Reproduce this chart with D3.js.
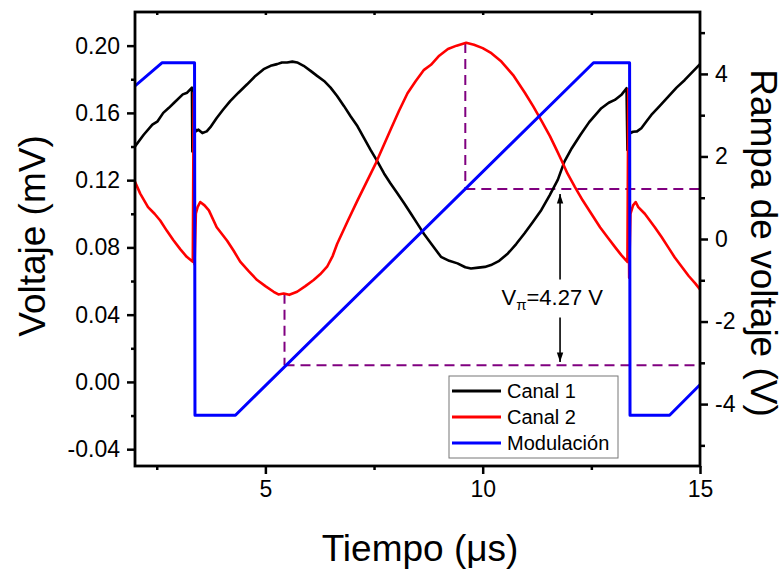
<!DOCTYPE html>
<html>
<head>
<meta charset="utf-8">
<script src="https://cdn.jsdelivr.net/npm/d3@7"></script>
<style>
  html, body { margin: 0; padding: 0; background: #fff; }
  svg { display: block; }
  text { font-family: "Liberation Sans", Arial, sans-serif; fill: #000; }
</style>
</head>
<body>
<svg id="chart" width="784" height="572"></svg>
<script>
// Time axis (µs)
const timeMajorTicks = [5, 10, 15];
const timeMinorTicks = [2.5, 7.5, 12.5];
// Left axis: photodetector voltage (mV)
const voltMajorTicks = [-0.04, 0.00, 0.04, 0.08, 0.12, 0.16, 0.20];
const voltMinorTicks = [-0.02, 0.02, 0.06, 0.10, 0.14, 0.18];
// Right axis: ramp voltage (V)
const rampMajorTicks = [-4, -2, 0, 2, 4];
const rampMinorTicks = [-5, -3, -1, 1, 3, 5];

// Canal 1 trace: [time µs, voltage mV]
const canal1 = [
  [2.00,0.140],[2.20,0.147],[2.40,0.153],[2.52,0.155],[2.65,0.160],[2.78,0.163],[2.90,0.166],[3.10,0.171],[3.20,0.172],[3.31,0.175],
  [3.32,0.137],[3.35,0.153],[3.40,0.149],[3.46,0.150],[3.55,0.148],[3.65,0.149],[3.75,0.152],[3.88,0.157],
  [4.03,0.162],[4.19,0.167],[4.38,0.172],[4.58,0.177],[4.77,0.182],[4.96,0.186],[5.12,0.188],[5.27,0.189],
  [5.38,0.190],[5.50,0.190],[5.62,0.1905],[5.73,0.190],[5.88,0.188],
  [6.04,0.185],[6.19,0.182],[6.35,0.179],[6.50,0.175],[6.65,0.170],[6.81,0.164],[6.96,0.158],[7.12,0.152],
  [7.27,0.145],[7.42,0.138],[7.58,0.131],[7.73,0.124],[7.88,0.118],[8.04,0.112],[8.20,0.106],[8.35,0.100],
  [8.50,0.094],[8.65,0.088],[8.85,0.081],[9.04,0.0744],[9.23,0.0720],[9.42,0.0705],[9.60,0.0682],[9.73,0.0675],
  [9.90,0.0680],[10.05,0.0684],[10.19,0.0695],[10.38,0.0720],[10.58,0.0764],[10.77,0.0820],[10.96,0.0883],
  [11.15,0.0950],[11.35,0.1023],[11.54,0.1110],[11.73,0.1203],[11.88,0.1310],[12.05,0.1390],[12.25,0.1470],
  [12.45,0.1545],[12.60,0.1590],[12.73,0.1628],[12.90,0.1660],[13.04,0.1677],[13.20,0.1710],[13.31,0.1747],
  [13.33,0.1380],[13.36,0.1520],[13.40,0.1480],[13.46,0.1488],[13.55,0.1490],[13.65,0.1509],[13.77,0.1550],
  [13.88,0.1588],[14.07,0.1640],[14.27,0.1697],[14.46,0.1750],[14.65,0.1796],[14.85,0.1850],[15.00,0.1890]
];

// Canal 2 trace: [time µs, voltage mV]
const canal2 = [
  [2.00,0.119],[2.12,0.112],[2.30,0.104],[2.45,0.100],[2.58,0.096],[2.73,0.090],[2.88,0.0844],[3.04,0.0790],
  [3.19,0.0744],[3.33,0.0714],[3.35,0.172],[3.37,0.070],[3.40,0.100],[3.44,0.104],[3.50,0.107],[3.60,0.105],
  [3.70,0.102],[3.88,0.092],[4.12,0.084],[4.27,0.078],[4.42,0.0715],[4.61,0.0660],[4.81,0.0606],[5.00,0.0570],
  [5.19,0.0536],[5.30,0.0520],[5.42,0.0526],[5.55,0.0518],[5.73,0.0536],[5.92,0.0570],[6.11,0.0606],
  [6.26,0.0640],[6.42,0.0685],[6.55,0.0750],[6.65,0.0820],[6.90,0.0960],[7.12,0.1080],[7.33,0.1190],
  [7.54,0.1300],[7.71,0.1400],[7.88,0.1500],[8.07,0.1610],[8.27,0.1717],[8.46,0.1790],[8.65,0.1856],
  [8.81,0.1886],[9.00,0.1940],[9.20,0.1980],[9.40,0.2000],[9.62,0.2017],[9.80,0.2005],[10.00,0.1985],
  [10.20,0.1955],[10.43,0.1905],[10.70,0.1825],[10.97,0.1720],[11.16,0.1640],[11.36,0.1550],[11.55,0.1460],
  [11.70,0.1380],[11.81,0.1320],[11.95,0.1240],[12.12,0.1160],[12.30,0.1080],[12.50,0.1000],[12.70,0.0920],
  [12.89,0.0854],[13.05,0.0800],[13.19,0.0754],[13.33,0.0714],[13.35,0.174],[13.37,0.062],[13.40,0.100],
  [13.46,0.105],[13.52,0.107],[13.58,0.104],[13.73,0.100],[13.96,0.092],[14.12,0.086],[14.27,0.080],
  [14.42,0.074],[14.58,0.0685],[14.74,0.0630],[14.89,0.0586],[15.00,0.0550]
];

// Modulación ramp: [time µs, ramp voltage V]
const modulacion = [
  [2.00,3.71],[2.62,4.27],[3.37,4.27],[3.38,-4.27],[4.31,-4.27],
  [12.55,4.27],[13.38,4.27],[13.39,-4.27],[14.30,-4.27],[15.00,-3.53]
];

// Half-wave voltage construction: valley and peak times, ramp levels
const vpiTimes = [5.44, 9.60];
const vpiLevels = [-3.06, 1.21];
const vpiText = "=4.27 V";

const seriesNames = ["Canal 1", "Canal 2", "Modulación"];
const seriesColors = ["#000000", "#ff0000", "#0000ff"];

const svg = d3.select("#chart");
const plotLeft = 135, plotRight = 700, plotTop = 12, plotBottom = 466;

const x = d3.scaleLinear().domain([2, 15]).range([plotLeft, plotRight]);
const yL = d3.scaleLinear().domain([-0.05, 0.22]).range([plotBottom, plotTop]);
const yR = d3.scaleLinear().domain([-5.5, 5.5]).range([plotBottom, plotTop]);

const defs = svg.append("defs");
defs.append("clipPath").attr("id", "plotClip")
  .append("rect").attr("x", plotLeft).attr("y", plotTop)
  .attr("width", plotRight - plotLeft).attr("height", plotBottom - plotTop);

const tickFont = "23px";
const hyphenated = spec => d => d3.format(spec)(d).replace("\u2212", "-");

// Axes
function styleAxis(g) {
  g.select(".domain").remove();
  g.selectAll(".tick line").attr("stroke", "#000").attr("stroke-width", 2.5);
  g.selectAll(".tick text").style("font-size", tickFont).style("font-family", '"Liberation Sans", Arial, sans-serif');
}

svg.append("g").attr("transform", `translate(${plotLeft},0)`)
  .call(d3.axisLeft(yL).tickValues(voltMajorTicks).tickFormat(hyphenated(".2f")).tickSize(8).tickPadding(7))
  .call(styleAxis);
svg.append("g").attr("transform", `translate(${plotLeft},0)`)
  .call(d3.axisLeft(yL).tickValues(voltMinorTicks).tickFormat("").tickSize(4))
  .call(styleAxis);

svg.append("g").attr("transform", `translate(${plotRight},0)`)
  .call(d3.axisRight(yR).tickValues(rampMajorTicks).tickFormat(hyphenated("d")).tickSize(8).tickPadding(7))
  .call(styleAxis);
svg.append("g").attr("transform", `translate(${plotRight},0)`)
  .call(d3.axisRight(yR).tickValues(rampMinorTicks).tickFormat("").tickSize(5))
  .call(styleAxis);

svg.append("g").attr("transform", `translate(0,${plotBottom})`)
  .call(d3.axisBottom(x).tickValues(timeMajorTicks).tickFormat(d3.format("d")).tickSize(8).tickPadding(7))
  .call(styleAxis);
svg.append("g").attr("transform", `translate(0,${plotBottom})`)
  .call(d3.axisBottom(x).tickValues(timeMinorTicks).tickFormat("").tickSize(4))
  .call(styleAxis);
svg.append("g").attr("transform", `translate(0,${plotTop})`)
  .call(d3.axisBottom(x).tickValues(timeMinorTicks.concat(timeMajorTicks.slice(0, 2))).tickFormat("").tickSize(3))
  .call(styleAxis);

// Axis titles
svg.append("text")
  .attr("transform", `translate(45,236) rotate(-90)`)
  .attr("text-anchor", "middle").style("font-size", "37px")
  .text("Voltaje (mV)");
svg.append("text")
  .attr("transform", `translate(751,243) rotate(90)`)
  .attr("text-anchor", "middle").style("font-size", "37px")
  .text("Rampa de voltaje (V)");
svg.append("text")
  .attr("x", 420).attr("y", 561)
  .attr("text-anchor", "middle").style("font-size", "37px")
  .text("Tiempo (μs)");

const plot = svg.append("g").attr("clip-path", "url(#plotClip)");

// Dashed construction lines for Vπ
const purple = "#800080";
const dash = "10,6";
const redAt = t => {
  const i = d3.bisector(d => d[0]).left(canal2, t);
  const a = canal2[Math.max(0, i - 1)], b = canal2[Math.min(canal2.length - 1, i)];
  return b[0] === a[0] ? a[1] : a[1] + (b[1] - a[1]) * (t - a[0]) / (b[0] - a[0]);
};
vpiTimes.forEach((t, i) => {
  plot.append("line")
    .attr("x1", x(t)).attr("x2", x(t))
    .attr("y1", yL(redAt(t))).attr("y2", yR(vpiLevels[i]))
    .attr("stroke", purple).attr("stroke-width", 2).attr("stroke-dasharray", dash);
  plot.append("line")
    .attr("x1", x(t)).attr("x2", x(15))
    .attr("y1", yR(vpiLevels[i])).attr("y2", yR(vpiLevels[i]))
    .attr("stroke", purple).attr("stroke-width", 2).attr("stroke-dasharray", dash);
});

// Traces
const lineL = d3.line().x(d => x(d[0])).y(d => yL(d[1]));
const lineR = d3.line().x(d => x(d[0])).y(d => yR(d[1]));
plot.append("path").datum(canal1).attr("d", lineL)
  .attr("fill", "none").attr("stroke", seriesColors[0]).attr("stroke-width", 2.6).attr("stroke-linejoin", "round");
plot.append("path").datum(canal2).attr("d", lineL)
  .attr("fill", "none").attr("stroke", seriesColors[1]).attr("stroke-width", 2.6).attr("stroke-linejoin", "round");
plot.append("path").datum(modulacion).attr("d", lineR)
  .attr("fill", "none").attr("stroke", seriesColors[2]).attr("stroke-width", 3).attr("stroke-linejoin", "round");

// Vπ arrows and label
const arrowT = 11.78;
defs.append("marker").attr("id", "arrowHead")
  .attr("viewBox", "0 0 12 10").attr("refX", 12).attr("refY", 5)
  .attr("markerWidth", 12).attr("markerHeight", 8).attr("markerUnits", "userSpaceOnUse")
  .attr("orient", "auto")
  .append("path").attr("d", "M0,1 L12,5 L0,9 Z").attr("fill", "#000");
svg.append("line")
  .attr("x1", x(arrowT)).attr("x2", x(arrowT))
  .attr("y1", yR(-0.98)).attr("y2", yR(vpiLevels[1] - 0.12))
  .attr("stroke", "#000").attr("stroke-width", 1.6).attr("marker-end", "url(#arrowHead)");
svg.append("line")
  .attr("x1", x(arrowT)).attr("x2", x(arrowT))
  .attr("y1", yR(-1.9)).attr("y2", yR(vpiLevels[0] + 0.08))
  .attr("stroke", "#000").attr("stroke-width", 1.6).attr("marker-end", "url(#arrowHead)");
const lbl = svg.append("text")
  .attr("x", x(11.6)).attr("y", yR(-1.6))
  .attr("text-anchor", "middle").style("font-size", "22px");
lbl.append("tspan").text("V");
lbl.append("tspan").attr("dy", 5).style("font-size", "15px").text("π");
lbl.append("tspan").attr("dy", -5).text(vpiText);

// Frame
svg.append("rect")
  .attr("x", plotLeft).attr("y", plotTop)
  .attr("width", plotRight - plotLeft).attr("height", plotBottom - plotTop)
  .attr("fill", "none").attr("stroke", "#000").attr("stroke-width", 2.8);

// Legend
const legend = svg.append("g").attr("transform", "translate(449,376)");
legend.append("rect").attr("width", 169).attr("height", 82)
  .attr("fill", "#fff").attr("stroke", "#777").attr("stroke-width", 1);
seriesNames.forEach((name, i) => {
  const cy = 15 + i * 26;
  legend.append("line").attr("x1", 3).attr("x2", 52).attr("y1", cy).attr("y2", cy)
    .attr("stroke", seriesColors[i]).attr("stroke-width", 3);
  legend.append("text").attr("x", 58).attr("y", cy + 7).style("font-size", "20px").text(name);
});
</script>
</body>
</html>
